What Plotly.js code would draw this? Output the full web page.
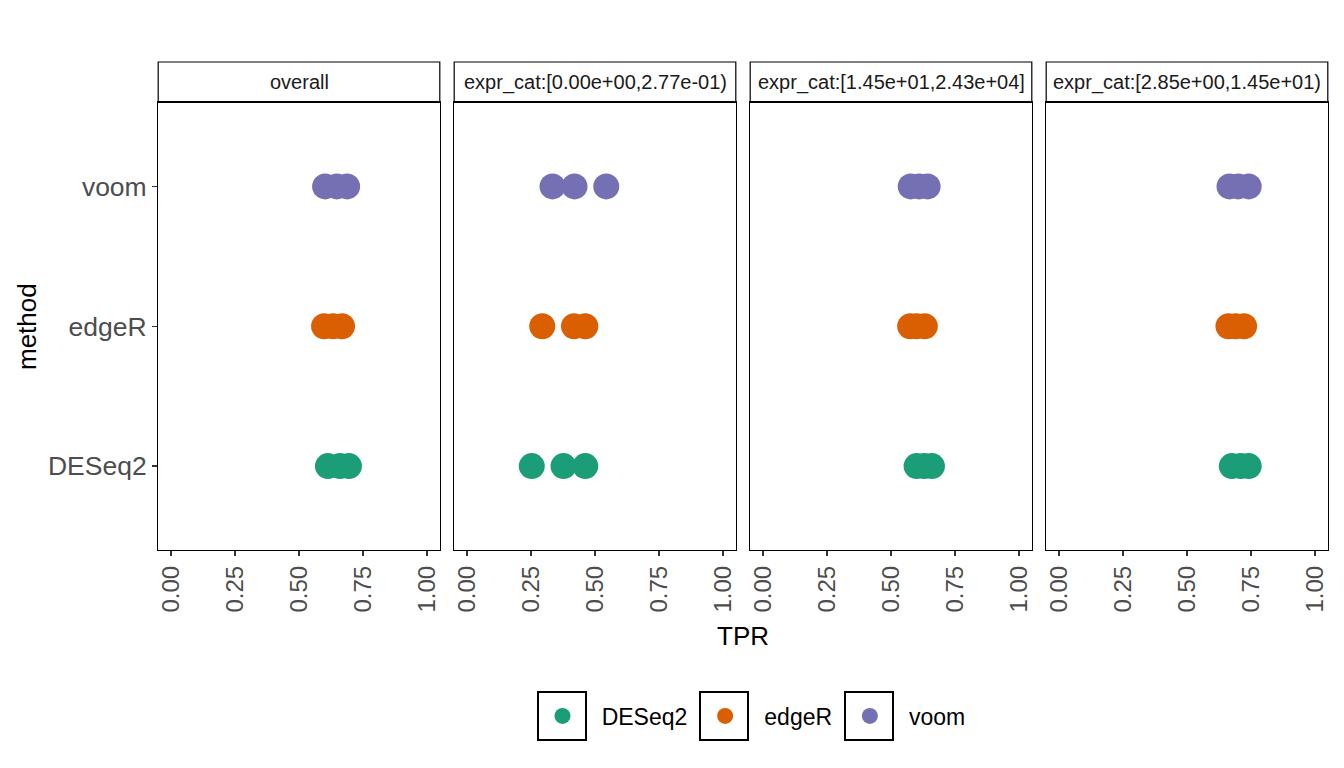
<!DOCTYPE html>
<html>
<head>
<meta charset="utf-8">
<script src="https://cdn.plot.ly/plotly-3.0.1.min.js"></script>
<style>html,body{margin:0;padding:0;background:#fff;}#chart{width:1344px;height:768px;}</style>
</head>
<body>
<div id="chart"></div>
<script>
// ---- data ----
const methods = ['DESeq2', 'edgeR', 'voom'];
const panels = ['overall', 'expr_cat:[0.00e+00,2.77e-01)', 'expr_cat:[1.45e+01,2.43e+04]', 'expr_cat:[2.85e+00,1.45e+01)'];
const colors = ['#1B9E77', '#D95F02', '#7570B3'];
const xTickVals = [0, 0.25, 0.5, 0.75, 1];
const xTickText = ['0.00', '0.25', '0.50', '0.75', '1.00'];

// TPR per replicate, per panel, per method
const tprOverall = {DESeq2: [0.613, 0.66, 0.695], edgeR: [0.598, 0.633, 0.668], voom: [0.602, 0.648, 0.688]};
const tprLow     = {DESeq2: [0.253, 0.377, 0.462], edgeR: [0.294, 0.418, 0.462], voom: [0.334, 0.42, 0.544]};
const tprHigh    = {DESeq2: [0.60, 0.63, 0.66], edgeR: [0.575, 0.60, 0.632], voom: [0.577, 0.61, 0.643]};
const tprMid     = {DESeq2: [0.675, 0.71, 0.741], edgeR: [0.662, 0.69, 0.723], voom: [0.666, 0.70, 0.741]};
const panelData = [tprOverall, tprLow, tprHigh, tprMid];

// ---- layout geometry ----
const W = 1344, H = 768;
const panelLeft0 = 158.2, panelStep = 296, panelW = 281.6;
const panelTop = 102.5, panelBottom = 550;
const stripTop = 62;
const legendKeyCenters = [562, 724, 869];
const legendKeyY = 716, legendKeySize = 48;
const font = 'Liberation Sans, Arial, sans-serif';
const NB = '\u00a0';

const traces = [];
const layout = {
  width: W, height: H,
  margin: {l: 0, r: 0, t: 0, b: 0, pad: 0},
  paper_bgcolor: '#fff', plot_bgcolor: '#fff',
  font: {family: font, color: '#000'},
  showlegend: true,
  legend: {
    orientation: 'h', x: 763 / W, xanchor: 'center', y: 1 - legendKeyY / H, yanchor: 'middle',
    font: {size: 23, color: '#000', family: font}, traceorder: 'normal',
    itemsizing: 'trace', bgcolor: 'rgba(0,0,0,0)'
  },
  shapes: [], annotations: []
};

panels.forEach((p, i) => {
  const n = i + 1;
  const xa = i === 0 ? 'xaxis' : 'xaxis' + n;
  const ya = i === 0 ? 'yaxis' : 'yaxis' + n;
  const xr = i === 0 ? 'x' : 'x' + n;
  const yr = i === 0 ? 'y' : 'y' + n;
  const left = panelLeft0 + panelStep * i;
  const d0 = left / W, d1 = (left + panelW) / W;
  const yDom = [1 - panelBottom / H, 1 - panelTop / H];
  layout[xa] = {
    domain: [d0, d1], anchor: yr, range: [-0.05, 1.05],
    tickmode: 'array', tickvals: xTickVals, ticktext: xTickText, tickangle: -90,
    ticks: 'outside', ticklen: 5, tickwidth: 1.2, tickcolor: '#333',
    tickfont: {size: 24, color: '#4d4d4d', family: font},
    showline: true, linecolor: '#000', linewidth: 1.2, mirror: true,
    showgrid: false, zeroline: false, fixedrange: true
  };
  layout[ya] = {
    domain: yDom, anchor: xr,
    type: 'category', categoryorder: 'array', categoryarray: methods, range: [-0.6, 2.6],
    ticks: i === 0 ? 'outside' : '', ticklen: 5, tickwidth: 1.2, tickcolor: '#333',
    showticklabels: i === 0, tickfont: {size: 26.5, color: '#4d4d4d', family: font},
    showline: true, linecolor: '#000', linewidth: 1.2, mirror: true,
    showgrid: false, zeroline: false, fixedrange: true
  };
  // white notches on the panel border (top, right, and left for inner panels)
  layout['xaxis' + (n + 4)] = {
    overlaying: xr, side: 'top', anchor: yr, range: [-0.05, 1.05],
    tickmode: 'array', tickvals: xTickVals, ticks: 'inside', ticklen: 2, tickwidth: 1.5, tickcolor: '#fff',
    showticklabels: false, showline: false, showgrid: false, zeroline: false, fixedrange: true
  };
  layout['yaxis' + (n + 4)] = {
    overlaying: yr, side: 'right', anchor: xr,
    type: 'category', categoryorder: 'array', categoryarray: methods, range: [-0.6, 2.6],
    ticks: 'inside', ticklen: 2, tickwidth: 1.5, tickcolor: '#fff',
    showticklabels: false, showline: false, showgrid: false, zeroline: false, fixedrange: true
  };
  if (i > 0) {
    layout['yaxis' + (n + 8)] = {
      overlaying: yr, side: 'left', anchor: xr,
      type: 'category', categoryorder: 'array', categoryarray: methods, range: [-0.6, 2.6],
      ticks: 'inside', ticklen: 2, tickwidth: 1.5, tickcolor: '#fff',
      showticklabels: false, showline: false, showgrid: false, zeroline: false, fixedrange: true
    };
  }
  methods.forEach((m, k) => {
    const vals = panelData[i][m];
    traces.push({
      type: 'scatter', mode: 'markers', xaxis: xr, yaxis: yr,
      x: vals, y: vals.map(() => m), name: NB + NB + NB + m + NB + NB, legendgroup: m, showlegend: i === 0,
      marker: {color: colors[k], size: 26, line: {width: 0}},
      hoverinfo: 'x+name'
    });
  });
  // strip
  layout.shapes.push({
    type: 'rect', xref: 'paper', yref: 'paper', x0: d0, x1: d1,
    y0: 1 - panelTop / H, y1: 1 - stripTop / H,
    line: {color: '#000', width: 1.2}, fillcolor: '#fff', layer: 'below'
  });
  layout.annotations.push({
    xref: 'paper', yref: 'paper', x: (d0 + d1) / 2, y: 1 - (stripTop + panelTop) / 2 / H,
    text: p, showarrow: false, xanchor: 'center', yanchor: 'middle',
    font: {size: 20, color: '#1a1a1a', family: font}
  });
});

// legend key boxes
legendKeyCenters.forEach(c => {
  layout.shapes.push({
    type: 'rect', xref: 'paper', yref: 'paper',
    x0: (c - legendKeySize / 2) / W, x1: (c + legendKeySize / 2) / W,
    y0: 1 - (legendKeyY + legendKeySize / 2) / H, y1: 1 - (legendKeyY - legendKeySize / 2) / H,
    line: {color: '#000', width: 2}, fillcolor: 'rgba(0,0,0,0)', layer: 'above'
  });
});

// axis titles
layout.annotations.push({
  xref: 'paper', yref: 'paper', x: (panelLeft0 + (panelLeft0 + panelStep * 3 + panelW)) / 2 / W, y: 1 - 636 / H,
  text: 'TPR', showarrow: false, xanchor: 'center', yanchor: 'middle',
  font: {size: 26, color: '#000', family: font}
});
layout.annotations.push({
  xref: 'paper', yref: 'paper', x: 27 / W, y: 1 - 327 / H, textangle: -90,
  text: 'method', showarrow: false, xanchor: 'center', yanchor: 'middle',
  font: {size: 26, color: '#000', family: font}
});

Plotly.newPlot('chart', traces, layout, {displayModeBar: false, staticPlot: true});
</script>
</body>
</html>
